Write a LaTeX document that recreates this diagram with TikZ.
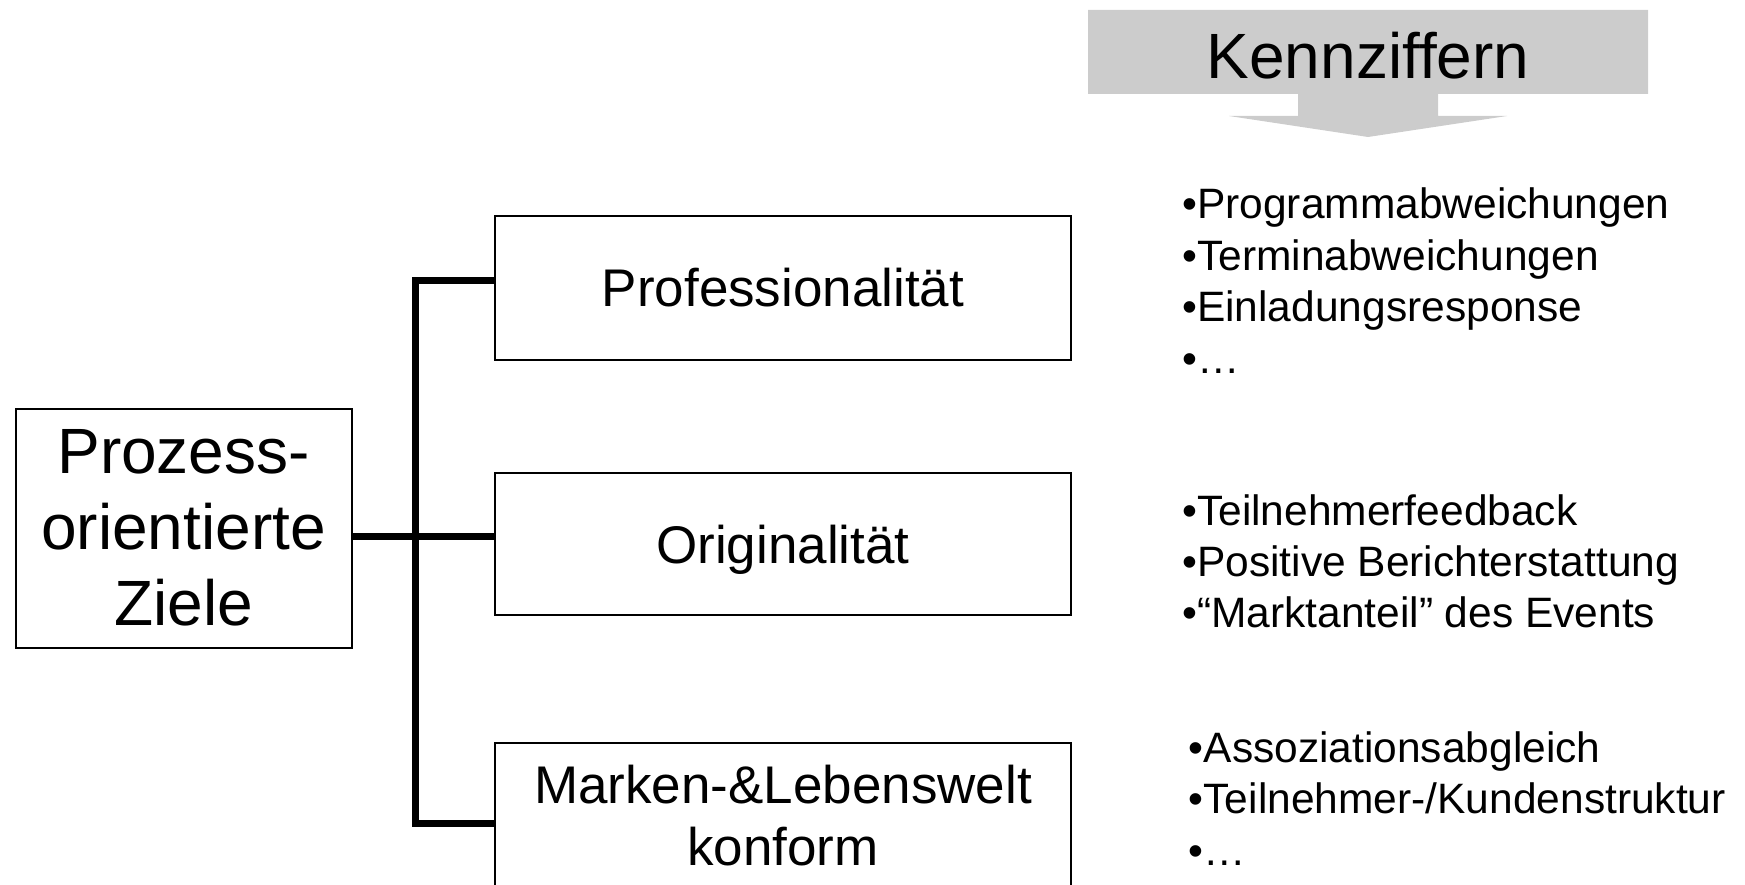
\documentclass[tikz,border=0pt]{standalone}
\usepackage{fontspec}
\setmainfont{Liberation Sans}
\definecolor{kgray}{RGB}{204,204,204}
\begin{document}
\begin{tikzpicture}[x=1pt,y=-1pt,
  box/.style={draw=black,line width=2pt,rectangle,inner sep=0pt,align=center},
  bigfont/.style={font=\fontsize{64}{76}\selectfont},
  midfont/.style={font=\fontsize{53}{62}\selectfont},
  conn/.style={line width=7pt,line join=miter,line cap=butt},
  item/.style={anchor=base west,inner sep=0pt,font=\fontsize{42.5}{51}\selectfont}]
\useasboundingbox (0,0) rectangle (1745,885);
\clip (0,0) rectangle (1745,885);

% Kennziffern banner arrow
\fill[kgray] (1088,10) -- (1648,10) -- (1648,94) -- (1438,94) -- (1438,116)
  -- (1507,116) -- (1368,137) -- (1229,116) -- (1298,116) -- (1298,94)
  -- (1088,94) -- cycle;
\node[bigfont,anchor=base,inner sep=0pt] (kz) at (1368,79) {Kennziffern};

% boxes
\node[box,bigfont,minimum width=336pt,minimum height=239pt] (goal) at (183.6,528) {Prozess-\\orientierte\\Ziele};
\node[box,midfont,minimum width=576pt,minimum height=143.5pt] (p1) at (783,287.8) {Professionalität};
\node[box,midfont,minimum width=576pt,minimum height=142.5pt,text depth=0pt] (p2) at (783,544.2) {Originalität};
\node[box,midfont,minimum width=576pt,minimum height=146pt] (p3) at (783,816) {Marken-\&Lebenswelt\\konform};

% connectors
\coordinate (btop) at (415,280.5);
\coordinate (bmid) at (415,536.4);
\coordinate (bbot) at (415,823.5);
\draw[conn] (p1.west |- btop) -- (btop) -- (bbot) -- (p3.west |- bbot);
\draw[conn] (goal.east |- bmid) -- (p2.west |- bmid);

% indicator lists
\node[item] (a1) at (1182,219) {•Programmabweichungen};
\node[item] (a2) at (1182,270.5) {•Terminabweichungen};
\node[item] (a3) at (1182,321.6) {•Einladungsresponse};
\node[item] (a4) at (1182,373) {•…};

\node[item] (b1) at (1182,525) {•Teilnehmerfeedback};
\node[item] (b2) at (1182,576.5) {•Positive Berichterstattung};
\node[item] (b3) at (1182,627.7) {•“Marktanteil” des Events};

\node[item] (c1) at (1188.6,762) {•Assoziationsabgleich};
\node[item] (c2) at (1188.6,813.5) {•Teilnehmer-/Kundenstruktur};
\node[item] (c3) at (1188.6,865) {•…};
\end{tikzpicture}
\end{document}
